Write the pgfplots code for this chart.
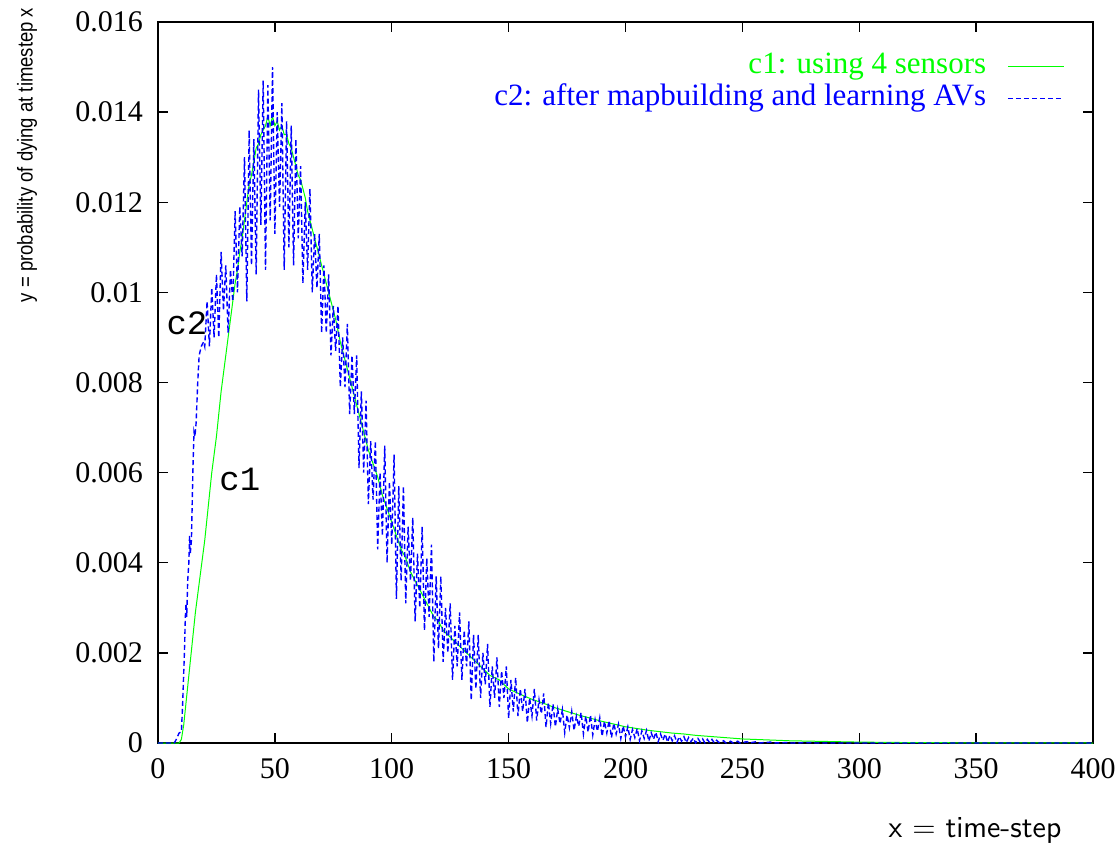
\documentclass[border=0pt]{standalone}
\usepackage{fontspec}
\setmainfont{Liberation Serif}
\newfontfamily\monofont{Liberation Mono}
\newfontfamily\narrowsans[FakeStretch=0.86]{Liberation Sans}
\usepackage{pgfplots}
\pgfplotsset{compat=1.18}
\definecolor{gpgreen}{rgb}{0,1,0}
\definecolor{gpblue}{rgb}{0,0,1}
\begin{document}
\begin{tikzpicture}
\useasboundingbox (-79pt,-50pt) rectangle (481pt,371.5pt);
\begin{axis}[
  at={(0,0)}, anchor=south west,
  scale only axis, width=467.5pt, height=360.5pt,
  xmin=0, xmax=400, ymin=0, ymax=0.016,
  xtick={0,50,100,150,200,250,300,350,400},
  xticklabels={0,50,100,150,200,250,300,350,400},
  ytick={0,0.002,0.004,0.006,0.008,0.01,0.012,0.014,0.016},
  yticklabels={0,0.002,0.004,0.006,0.008,0.01,0.012,0.014,0.016},
  scaled y ticks=false,
  tick align=inside,
  major tick length=5pt,
  tick style={black, line width=0.7pt},
  axis line style={black, line width=0.75pt},
  ticklabel style={font=\fontsize{15}{18}\selectfont},
  xticklabel style={yshift=-4pt},
  yticklabel style={xshift=-4pt},
  clip=true,
  legend plot pos=right,
  legend cell align=right,
  legend image code/.code={\draw[#1] (0pt,0pt) -- (28pt,0pt);},
  legend style={at={(0.970,0.961)}, anchor=north east, draw=none, fill=none,
    font=\fontsize{15.5}{18}\selectfont, row sep=0pt, inner sep=0pt,
    nodes={inner sep=0pt, text height=11.5pt, text depth=4.5pt},
    /tikz/every odd column/.append style={column sep=10.5pt}},
]
\addplot[gpgreen, line width=0.5pt] table {
0 0
9 0
10 0.00008
11 0.0004
12 0.0009
13 0.0014
14 0.0019
15 0.0024
16 0.0029
17 0.0033
18 0.0037
19 0.0041
20 0.0045
21 0.0050
22 0.0055
23 0.0060
24 0.0064
25 0.0068
26 0.0073
27 0.0078
28 0.0082
29 0.0086
30 0.0090
31 0.0094
32 0.0098
33 0.0102
34 0.0105
35 0.0109
36 0.0112
37 0.0116
38 0.0120
39 0.0124
40 0.0126
41 0.0129
42 0.0132
43 0.0133
44 0.0135
45 0.0136
46 0.0137
47 0.0139
48 0.0137
49 0.0139
50 0.0137
51 0.0138
52 0.0136
53 0.0137
54 0.0135
55 0.0135
56 0.0133
57 0.0132
58 0.0130
59 0.0128
60 0.0126
61 0.0125
62 0.0123
63 0.0121
64 0.0118
65 0.0116
66 0.0114
67 0.0112
68 0.0110
69 0.0108
70 0.0106
72 0.0102
74 0.0098
76 0.0094
78 0.0089
80 0.0085
82 0.0081
84 0.0077
86 0.0073
88 0.0069
90 0.0065
92 0.0062
94 0.0059
96 0.0055
98 0.0052
100 0.0049
102 0.0046
104 0.0043
106 0.0041
108 0.0038
110 0.0036
112 0.0034
114 0.0032
116 0.0030
118 0.0028
120 0.0027
122 0.0025
124 0.0024
126 0.0023
128 0.0022
130 0.0021
132 0.0020
134 0.0019
136 0.0018
138 0.0017
140 0.0016
142 0.0015
144 0.00145
146 0.0014
148 0.0013
150 0.0012
155 0.00108
160 0.00097
165 0.00088
170 0.00078
175 0.0007
180 0.00062
185 0.00055
190 0.00048
195 0.00042
200 0.00036
205 0.00032
210 0.00028
215 0.00025
220 0.00022
225 0.0002
230 0.00017
235 0.00015
240 0.00013
245 0.00011
250 0.00009
260 0.00007
270 0.00005
280 0.00004
290 0.00003
300 0.00002
320 0.00001
350 0.000003
400 0
};
\addlegendentry{\textcolor{gpgreen}{c1: using 4 sensors}}
\addplot[gpblue, line width=0.7pt, dash pattern=on 2.5pt off 1.5pt] table {
0 0
7 0
8 0.0001
9 0.00022
10 0.00025
10.5 0.0008
11.3 0.0020
11.7 0.0028
12 0.0031
12.3 0.0028
12.7 0.0036
13.2 0.0040
13.5 0.0046
13.8 0.0042
14.3 0.0045
15 0.0062
15.4 0.0069
15.8 0.0068
16.3 0.0071
17 0.0080
17.6 0.0086
18.5 0.0088
19.5 0.0089
20 0.0088
21 0.0098
22 0.0088
23 0.0101
24 0.0090
25 0.0104
26 0.0090
27 0.0109
28 0.0096
29 0.0106
30 0.0091
31 0.0105
32 0.0098
33 0.0118
34 0.0100
35 0.0119
36 0.0108
37 0.0130
38 0.0098
39 0.0136
40 0.0106
41 0.0134
42 0.0104
43 0.0145
44 0.0115
45 0.0147
46 0.0105
47 0.0146
48 0.0116
49 0.0150
50 0.0113
51 0.0140
52 0.0119
53 0.0142
54 0.0105
55 0.0138
56 0.0110
57 0.0137
58 0.0106
59 0.0134
60 0.0112
61 0.0128
62 0.0102
63 0.0120
64 0.0105
65 0.0123
66 0.0100
67 0.0113
68 0.0101
69 0.0113
70 0.0091
71 0.0106
72 0.0091
73 0.0104
74 0.0086
75 0.0097
76 0.0087
77 0.0097
78 0.0079
79 0.0090
80 0.0079
81 0.0093
82 0.0073
83 0.0086
84 0.0073
85 0.0086
86 0.0061
87 0.0078
88 0.0060
89 0.0076
90 0.0053
91 0.0067
92 0.0054
93 0.0067
94 0.0043
95 0.0060
96 0.0046
97 0.0066
98 0.0040
99 0.0058
100 0.0044
101 0.0064
102 0.0032
103 0.0057
104 0.0036
105 0.0057
106 0.0031
107 0.0048
108 0.0036
109 0.0050
110 0.0027
111 0.0042
112 0.0030
113 0.0048
114 0.0025
115 0.0041
116 0.0028
117 0.0044
118 0.0018
119 0.0037
120 0.0021
121 0.0037
122 0.0018
123 0.0030
124 0.0020
125 0.0031
126 0.0014
127 0.0026
128 0.0017
129 0.0029
130 0.0014
131 0.0025
132 0.0017
133 0.0027
134 0.00095
135 0.0024
136 0.0012
137 0.0024
138 0.0010
139 0.0020
140 0.0013
141 0.0022
142 0.0008
143 0.0017
144 0.0010
145 0.0019
146 0.0008
147 0.0016
148 0.0010
149 0.0017
150 0.00055
151 0.0014
152 0.0007
153 0.00145
154 0.0006
155 0.0012
156 0.0007
157 0.0012
158 0.00045
159 0.0010
160 0.0006
161 0.0012
162 0.0005
163 0.00096
164 0.00065
165 0.0011
166 0.00035
167 0.0009
168 0.00043
169 0.00087
170 0.00036
171 0.00075
172 0.00043
173 0.00074
174 0.00023
175 0.00062
176 0.00034
177 0.0007
178 0.00028
179 0.0006
180 0.00037
181 0.00068
182 0.0002
183 0.0006
184 0.00024
185 0.00062
186 0.00018
187 0.00052
188 0.00026
189 0.00056
190 0.00015
191 0.00048
192 0.00022
193 0.0005
194 0.00012
195 0.00044
196 0.0002
197 0.00042
198 0.0001
199 0.00038
200 0.00014
201 0.00036
202 0.00008
203 0.0003
204 0.00012
205 0.00032
206 0.00005
207 0.00027
208 0.0001
209 0.00028
210 0.00004
211 0.00023
212 0.00008
213 0.00024
214 0.00003
215 0.0002
216 0.00006
217 0.0002
218 0.00002
219 0.00017
220 0.00005
221 0.00016
222 0.00001
223 0.00014
224 0.00004
225 0.00014
226 0.00001
227 0.00012
228 0.00003
229 0.00011
230 0
231 0.0001
232 0.00002
233 0.00009
234 0
235 0.00008
236 0.00001
237 0.00008
238 0
239 0.00006
240 0.00001
242 0.00005
243 0
245 0.00004
246 0
248 0.00004
249 0
252 0.00003
253 0
256 0.00003
257 0
262 0.00002
263 0
270 0.00001
271 0
280 0.00001
281 0
400 0
};
\addlegendentry{\textcolor{gpblue}{c2: after mapbuilding and learning AVs}}
\node[font=\monofont\fontsize{17}{20}\selectfont] at (axis cs:12.4,0.00932) {c2};
\node[font=\monofont\fontsize{17}{20}\selectfont] at (axis cs:35,0.00584) {c1};
\end{axis}
\node[font=\sffamily\fontsize{15.3}{18}\selectfont] at (408.5pt,-43.5pt) {x = time-step};
\node[rotate=90, font=\narrowsans\fontsize{10.75}{13}\selectfont] at (-65.5pt,294pt) {y = probability of dying at timestep x};
\end{tikzpicture}
\end{document}
